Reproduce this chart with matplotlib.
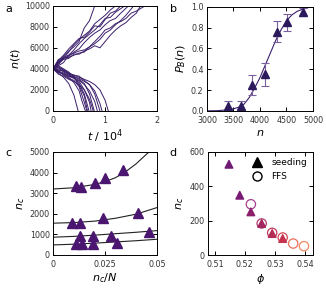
import matplotlib
matplotlib.use("Agg")
import matplotlib.pyplot as plt

# ---- panel a : trajectories n(t), t in units of 10^4
traj_t = [
    [0, 0.1, 0.2, 0.3, 0.4, 0.5, 0.55, 0.6, 0.7, 0.8],
    [0, 0.1, 0.2, 0.3, 0.4, 0.5, 0.6, 0.7, 0.8, 0.9, 1.0, 1.1, 1.2],
    [0, 0.1, 0.2, 0.3, 0.4, 0.5, 0.6, 0.7, 0.8, 0.9, 1.0, 1.1, 1.2, 1.3],
    [0, 0.1, 0.2, 0.3, 0.4, 0.5, 0.6, 0.7, 0.8, 0.9, 1.0, 1.1, 1.2, 1.38],
    [0, 0.1, 0.2, 0.3, 0.4, 0.5, 0.6, 0.7, 0.8, 0.9, 1.0, 1.1, 1.2, 1.3, 1.45],
    [0, 0.1, 0.2, 0.3, 0.4, 0.5, 0.6, 0.7, 0.8, 0.9, 1.0, 1.1, 1.2, 1.3, 1.4, 1.55],
    [0, 0.1, 0.2, 0.3, 0.4, 0.5, 0.6, 0.7, 0.8, 0.9, 1.0, 1.1, 1.2, 1.3, 1.4, 1.5, 1.6, 1.68],
    [0, 0.1, 0.2, 0.3, 0.4, 0.5, 0.6, 0.7, 0.8, 0.9, 1.0, 1.1, 1.2, 1.3, 1.4, 1.5, 1.6, 1.7, 1.77],
    [0, 0.1, 0.2, 0.3, 0.4, 0.48],
    [0, 0.1, 0.2, 0.3, 0.4, 0.5, 0.55, 0.62],
    [0, 0.1, 0.2, 0.3, 0.4, 0.5, 0.6, 0.65],
    [0, 0.1, 0.2, 0.3, 0.4, 0.5, 0.6, 0.69],
    [0, 0.1, 0.2, 0.3, 0.4, 0.5, 0.6, 0.7, 0.73],
    [0, 0.1, 0.2, 0.3, 0.4, 0.5, 0.6, 0.7, 0.77],
    [0, 0.1, 0.2, 0.3, 0.4, 0.5, 0.6, 0.7, 0.79],
    [0, 0.1, 0.2, 0.3, 0.4, 0.5, 0.6, 0.7, 0.8, 0.85],
    [0, 0.1, 0.2, 0.3, 0.4, 0.5, 0.6, 0.7, 0.8, 0.9],
    [0, 0.1, 0.2, 0.3, 0.4, 0.5, 0.6, 0.7, 0.8, 0.9, 0.94],
    [0, 0.1, 0.2, 0.3, 0.4, 0.5, 0.6, 0.7, 0.8, 0.9, 1.0, 1.06],
    [0, 0.1, 0.2, 0.3, 0.4, 0.5, 0.6, 0.66],
]
traj_n = [
    [4000, 4700, 5200, 5700, 6100, 6600, 7300, 7900, 8600, 10000],
    [4000, 4400, 5000, 5600, 6300, 6800, 7200, 7600, 8300, 8700, 9100, 9600, 10000],
    [4000, 4800, 5300, 5900, 6400, 6900, 7000, 7500, 8100, 8000, 8700, 9300, 9500, 10000],
    [4000, 4300, 4600, 5300, 5800, 6400, 6900, 7300, 7700, 8200, 8800, 8900, 9400, 10000],
    [4000, 4600, 5000, 5200, 5600, 5900, 6500, 7000, 7400, 7700, 8200, 8600, 8800, 9300, 10000],
    [4000, 4900, 5000, 5100, 5300, 5500, 5600, 6100, 6400, 6800, 7400, 7700, 8200, 8600, 9100, 10000],
    [4000, 4500, 4900, 5000, 5400, 5400, 5700, 5900, 6200, 6000, 6600, 7200, 7700, 8100, 8400, 8900, 9300, 10000],
    [4000, 4600, 5100, 5300, 5500, 5700, 5800, 6100, 6600, 7100, 7700, 7900, 8300, 8500, 8800, 9300, 9500, 9800, 10000],
    [4000, 3600, 3200, 2600, 1500, 0],
    [4000, 3700, 3500, 3200, 2700, 1900, 1000, 0],
    [4000, 3800, 3400, 3100, 2900, 2300, 800, 0],
    [4000, 4100, 3700, 3400, 3200, 2600, 1600, 0],
    [4000, 3900, 3800, 3500, 3100, 2800, 2000, 800, 0],
    [4000, 3500, 3300, 3000, 2800, 2500, 2000, 1100, 0],
    [4000, 4200, 3900, 3600, 3300, 3000, 2600, 1600, 0],
    [4000, 3800, 3600, 3300, 3100, 2900, 2500, 1900, 900, 0],
    [4000, 4100, 3900, 3500, 3400, 3300, 2900, 2500, 1600, 0],
    [4000, 3700, 3500, 3300, 3200, 3100, 2800, 2500, 1900, 700, 0],
    [4000, 3900, 3800, 3600, 3400, 3200, 3000, 2800, 2500, 2000, 1000, 0],
    [4000, 4300, 4000, 3700, 3200, 2400, 1400, 0],
]

# ---- panel b : committor P_B(n)
b_n = [3400, 3650, 3845, 4090, 4325, 4515, 4815]
b_p = [0.05, 0.05, 0.25, 0.35, 0.76, 0.85, 0.95]
b_err = [0.045, 0.045, 0.095, 0.11, 0.10, 0.08, 0.04]
fit_n = [3000, 3200, 3400, 3500, 3600, 3700, 3800, 3900, 4000, 4100,
         4200, 4300, 4400, 4500, 4600, 4700, 4800, 4900, 5000]
fit_p = [0.0, 0.002, 0.01, 0.02, 0.035, 0.065, 0.13, 0.22, 0.32, 0.44,
         0.56, 0.68, 0.78, 0.865, 0.92, 0.955, 0.975, 0.99, 1.0]

# ---- panel c : n_c vs n_c/N
c_x = [
    [0.0111, 0.0133, 0.0202, 0.025, 0.0335],
    [0.009, 0.0127, 0.0242, 0.041],
    [0.013, 0.019, 0.0277, 0.0463],
    [0.011, 0.0138, 0.019, 0.0306],
]
c_y = [
    [3350, 3290, 3510, 3720, 4130],
    [1540, 1570, 1780, 2050],
    [920, 920, 920, 1130],
    [520, 520, 530, 600],
]
cfit_x = [
    [0, 0.01, 0.02, 0.025, 0.03, 0.035, 0.04, 0.045, 0.0462],
    [0, 0.01, 0.02, 0.03, 0.04, 0.05],
    [0, 0.01, 0.02, 0.03, 0.04, 0.05],
    [0, 0.01, 0.02, 0.03, 0.04, 0.05],
]
cfit_y = [
    [3200, 3260, 3420, 3560, 3750, 4050, 4430, 4900, 5000],
    [1540, 1570, 1640, 1780, 1980, 2300],
    [860, 900, 960, 1030, 1100, 1180],
    [485, 520, 570, 630, 690, 760],
]

# ---- panel d : n_c vs phi
seed_phi = [0.5147, 0.5183, 0.522, 0.5256, 0.5291, 0.5326]
seed_nc = [527, 348, 252, 185, 127, 98]
ffs_phi = [0.522, 0.5256, 0.5291, 0.5326, 0.5361, 0.5397]
ffs_nc = [296, 185, 131, 104, 69, 54]
seed_col = ['#6f1a74', '#7a1a72', '#8c1f6c', '#a2265f', '#b32d57', '#c4344f']
ffs_col = ['#a64090', '#b23a6c', '#c2395c', '#d44a56', '#e8705c', '#ef8862']

plt.rcParams['font.family'] = 'DejaVu Sans'
plt.rcParams['font.size'] = 6

fig = plt.figure(figsize=(3.26, 2.91), dpi=100)
ax_a = fig.add_axes([0.163, 0.619, 0.319, 0.361])
ax_b = fig.add_axes([0.635, 0.619, 0.325, 0.358])
ax_c = fig.add_axes([0.163, 0.124, 0.319, 0.354])
ax_d = fig.add_axes([0.637, 0.122, 0.324, 0.357])

for ax in (ax_a, ax_b, ax_c, ax_d):
    ax.tick_params(direction='in', top=True, right=True, length=3, width=0.7,
                   labelsize=5.8, labelcolor='#333333', pad=2.5)
    ax.tick_params(axis='x', pad=3.5)
    for s in ax.spines.values():
        s.set_linewidth(0.7)

lab_kw = dict(fontsize=8, labelpad=2)

# a
for t, n in zip(traj_t, traj_n):
    ax_a.plot(t, n, color='#3b1f6b', lw=0.7)
ax_a.set_xlim(0, 2)
ax_a.set_ylim(0, 10000)
ax_a.set_xticks([0, 1, 2])
ax_a.set_yticks([0, 2000, 4000, 6000, 8000, 10000])
ax_a.set_xlabel(r'$t\ /\ 10^4$', **lab_kw)
ax_a.set_ylabel(r'$n(t)$', **lab_kw)

# b
ax_b.plot(fit_n, fit_p, color='#3b1f6b', lw=0.8)
ax_b.errorbar(b_n, b_p, yerr=b_err, fmt='^', color='#2c1a5c', ms=6,
              ecolor='#7a5fa0', elinewidth=0.8, capsize=3, capthick=0.8)
ax_b.set_xlim(3000, 5000)
ax_b.set_ylim(0, 1)
ax_b.set_xticks([3000, 3500, 4000, 4500, 5000])
ax_b.set_yticks([0, 0.2, 0.4, 0.6, 0.8, 1.0])
ax_b.set_yticklabels(['0.0', '0.2', '0.4', '0.6', '0.8', '1.0'])
ax_b.set_xlabel(r'$n$', **lab_kw)
ax_b.set_ylabel(r'$P_B(n)$', **lab_kw)

# c
for fx, fy in zip(cfit_x, cfit_y):
    ax_c.plot(fx, fy, color='#222222', lw=0.8)
for x, y in zip(c_x, c_y):
    ax_c.plot(x, y, '^', color='#4b1670', ms=6.5, ls='none')
ax_c.set_xlim(0, 0.05)
ax_c.set_ylim(0, 5000)
ax_c.set_xticks([0, 0.025, 0.05])
ax_c.set_xticklabels(['0', '0.025', '0.05'])
ax_c.set_yticks([0, 1000, 2000, 3000, 4000, 5000])
ax_c.set_xlabel(r'$n_c/N$', **lab_kw)
ax_c.set_ylabel(r'$n_c$', **lab_kw)

# d
ax_d.scatter(ffs_phi, ffs_nc, s=45, facecolors='none', edgecolors=ffs_col,
             linewidths=0.9, zorder=2)
ax_d.scatter(seed_phi, seed_nc, s=30, marker='^', c=seed_col, zorder=3)
ax_d.plot([], [], '^', color='black', ms=6.5, ls='none', label='seeding')
ax_d.plot([], [], 'o', mfc='none', mec='black', ms=6.5, ls='none', label='FFS')
ax_d.legend(loc='upper right', frameon=False, fontsize=6.5, handletextpad=0.6,
            borderaxespad=0.3, labelspacing=0.6)
ax_d.set_xlim(0.5076, 0.5428)
ax_d.set_ylim(0, 600)
ax_d.set_xticks([0.51, 0.52, 0.53, 0.54])
ax_d.set_yticks([0, 200, 400, 600])
ax_d.set_xlabel(r'$\phi$', **lab_kw)
ax_d.set_ylabel(r'$n_c$', **lab_kw)

for x, y, s in [(0.015, 0.985, 'a'), (0.52, 0.985, 'b'),
                (0.015, 0.49, 'c'), (0.52, 0.49, 'd')]:
    fig.text(x, y, s, fontsize=8, va='top', ha='left')

fig.savefig('out.png', dpi=100)
